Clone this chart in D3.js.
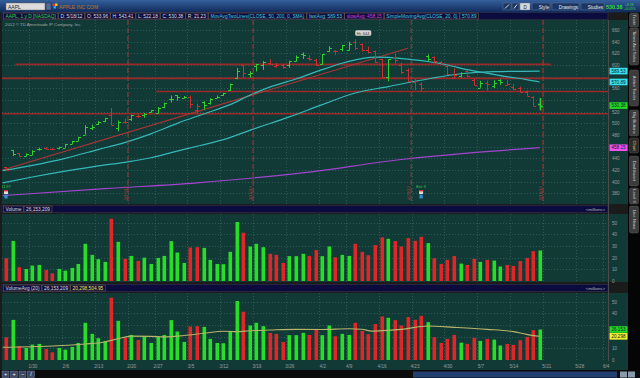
<!DOCTYPE html>
<html>
<head>
<meta charset="utf-8">
<script src="https://cdnjs.cloudflare.com/ajax/libs/d3/7.8.5/d3.min.js"></script>
<style>
  body { margin: 0; background: #000; }
  svg { display: block; font-family: "Liberation Sans", Arial, sans-serif; }
</style>
</head>
<body>
<div id="chart"></div>
<script>
// trading days shown (AAPL daily, 1/24/12 - 5/18/12)
const dates = ["1/24","1/25","1/26","1/27","1/30","1/31","2/1","2/2","2/3","2/6","2/7","2/8","2/9","2/10","2/13","2/14","2/15","2/16","2/17","2/21","2/22","2/23","2/24","2/27","2/28","2/29","3/1","3/2","3/5","3/6","3/7","3/8","3/9","3/12","3/13","3/14","3/15","3/16","3/19","3/20","3/21","3/22","3/23","3/26","3/27","3/28","3/29","3/30","4/2","4/3","4/4","4/5","4/9","4/10","4/11","4/12","4/13","4/16","4/17","4/18","4/19","4/20","4/23","4/24","4/25","4/26","4/27","4/30","5/1","5/2","5/3","5/4","5/7","5/8","5/9","5/10","5/11","5/14","5/15","5/16","5/17","5/18"];
const opens = [425.10,454.44,448.48,444.34,445.71,455.85,458.49,455.90,457.30,458.38,465.25,470.50,480.51,491.17,499.53,504.66,514.26,491.50,503.11,506.88,513.08,515.08,519.67,517.56,527.96,541.56,548.17,544.24,545.42,523.66,536.80,534.69,544.21,548.98,557.54,578.05,599.61,584.72,598.37,599.51,602.74,597.78,600.49,599.79,606.18,618.38,612.78,608.77,601.83,624.48,624.35,626.98,626.13,639.93,636.20,625.00,624.11,610.06,578.94,613.00,600.22,591.38,570.61,568.00,615.06,614.28,605.50,597.94,578.36,580.32,590.50,575.00,561.00,569.21,563.70,574.57,565.00,562.57,561.00,554.35,545.36,533.96];
const highs = [425.10,454.45,448.79,448.48,453.90,458.24,458.99,457.17,460.00,464.98,469.75,476.79,496.75,497.62,503.83,509.56,526.29,504.89,507.77,514.85,515.49,517.83,522.90,528.00,535.41,547.61,548.21,546.80,547.48,533.69,537.78,542.99,547.74,552.00,568.18,594.72,600.01,589.20,601.77,606.90,609.65,603.50,601.80,607.15,616.28,621.45,616.56,610.56,618.77,632.21,625.86,634.66,639.84,644.00,636.87,631.33,624.70,610.28,610.00,620.25,604.00,594.16,576.67,570.00,618.00,614.69,607.00,598.40,594.40,587.40,591.40,576.00,572.77,573.50,573.94,575.44,574.00,567.55,563.00,556.52,547.00,543.41];
const lows = [419.55,443.73,443.14,443.77,445.39,453.07,455.55,453.98,455.56,458.20,464.58,469.70,480.56,488.55,497.09,502.00,496.89,486.63,500.30,504.12,509.07,509.50,518.64,517.25,525.85,535.70,538.77,542.52,526.00,516.22,523.30,532.12,543.11,547.00,555.75,575.40,578.55,578.00,589.05,591.48,601.41,595.25,593.40,595.26,606.06,610.31,607.23,597.94,600.38,622.51,617.00,623.40,625.30,626.00,623.34,620.50,603.51,578.25,571.91,602.71,584.80,570.42,556.62,555.00,606.00,602.13,600.50,583.00,578.00,578.59,580.30,565.17,561.00,556.11,560.50,566.00,565.00,556.88,553.00,547.00,530.12,522.18];
const closes = [420.41,446.66,444.63,447.28,453.01,456.48,456.19,455.12,459.68,463.97,468.83,476.68,493.17,493.42,502.60,509.46,497.67,502.21,502.12,514.85,513.04,516.39,522.41,525.76,535.41,542.44,544.47,545.18,533.16,530.26,530.69,541.99,545.17,552.00,568.10,589.58,585.56,585.57,601.10,605.96,602.50,599.34,596.05,606.98,614.48,617.62,609.86,599.55,618.63,629.32,624.31,633.68,636.23,628.44,626.20,622.77,605.23,580.13,609.70,608.34,587.44,572.98,571.70,560.28,610.00,607.70,603.00,583.98,582.13,585.98,581.82,565.25,569.48,568.18,569.18,570.52,566.71,558.22,553.17,546.08,530.12,530.38];
const prevClose = 427.41;
// volume, millions
const volumes = [19.5,34.4,11.8,10.3,13.2,13.8,9.5,6.6,10.3,8.9,11.2,14.6,31.9,22.4,18.7,16.4,53.4,33.6,19.0,21.5,17.2,20.0,14.6,19.8,21.5,34.2,24.4,15.5,28.7,29.0,28.4,18.1,14.6,14.4,25.0,50.6,41.4,29.6,31.9,29.0,23.3,22.4,15.5,21.3,21.3,23.3,21.5,26.5,21.3,29.6,20.4,22.4,21.5,31.9,25.0,22.1,30.8,37.4,36.2,34.2,29.6,36.8,34.5,37.9,32.5,19.5,14.7,18.1,21.5,14.9,13.8,19.0,16.4,18.1,17.5,12.4,13.8,12.9,17.0,19.8,25.6,26.15];

// moving averages, [bar position, value]
const sma20 = [[-0.5,419],[4,428],[9,440],[14,455],[18,467],[22,482],[26,500],[30,516],[34,532],[37,548],[40,562],[44,576],[48,592],[51,603],[54,611],[56,613.5],[58,613],[61,610],[64,606],[67,600],[70,592],[73,586],[76,580],[79,575],[81,570.89]];
const sma50 = [[-0.5,398],[4,408],[9,418],[14,427],[18.5,434],[22,441],[25.5,451],[29.5,462],[33,472],[37.5,490],[43,511],[48,532],[53,552],[58,563],[64,576],[69,585],[74,588.6],[81,589.53]];
const sma200 = [[-0.5,376],[15,388],[29,398],[45,415],[60,438],[70,449],[81,458.15]];
const volAvg20 = [[-0.5,10.9],[7,12.0],[12,13.7],[15,15.5],[17,18.2],[19,20.5],[22,20.3],[24,19.8],[27,21],[30,22.9],[33,24.6],[35,24.3],[37,25.1],[40,25.7],[44,26.3],[48,26.2],[52,26.8],[54,26.4],[55.5,24.8],[58,25.4],[60,26.3],[64,29.1],[68,28],[73,26.3],[77,24.3],[79,22],[81,20.3]];

// drawings
const levels = [{p: 601, from: 1.4, to: 82.7}, {p: 577, from: -1, to: 92}, {p: 554.5, from: 22.8, to: 92}, {p: 516.5, from: -1, to: 92}];
const trend = [[-0.5, 420], [61, 628.6]];
const expiries = [18.5, 37.5, 61.5, 81.5];
const expiryLabels = ["2/17/12", "3/16/12", "4/20/12", "5/18/12"];

// x axis
const tickLabels = ["1/30","2/6","2/13","2/20","2/27","3/5","3/12","3/19","3/26","4/2","4/9","4/16","4/23","4/30","5/7","5/14","5/21","5/28","6/4"];
const tickPos = [4,9,14,19,23,28,33,38,43,48,52,57,62,67,72,77,82,87,91];
const priceTicks = d3.range(380, 661, 20);
const volTicks = [0, 10, 20, 30, 40, 50];

// right scale readouts
const priceMarks = [{v: 589.53, c: "#38e0ee"}, {v: 570.89, c: "#38e0ee"}, {v: 530.38, c: "#22d822"}, {v: 458.15, c: "#f050f0"}];
const avgMarks = [{v: 26.153, c: "#22d822"}, {v: 20.298, c: "#eeee30"}];

const W = 640, H = 378;
const plotL = 2, plotR = 608, axisR = 628;
const priceTop = 20, priceBot = 204;
const volTop = 214, volBot = 282;
const avgTop = 293, avgBot = 361;

const BG = "#113a37", GRID = "#40706a", GREEN = "#27dd27", RED = "#e02626";
const PGREEN = "#2fcf2f", PRED = "#cc2f2f", TEAL = "#36b8b8", LEVEL = "#9a2a2a";

const x = d3.scaleLinear().domain([0, 81]).range([6, 539.7]);
const yP = d3.scaleLinear().domain([380, 660]).range([193.3, 30]);
const yV = d3.scaleLinear().domain([0, 50]).range([281, 222.7]);
const yA = d3.scaleLinear().domain([0, 50]).range([360, 301.7]);

const svg = d3.select("#chart").append("svg").attr("width", W).attr("height", H);
svg.append("rect").attr("width", W).attr("height", H).attr("fill", "#1b1b1b");

const defs = svg.append("defs");
const grad = defs.append("linearGradient").attr("id", "topg").attr("x1", 0).attr("y1", 0).attr("x2", 0).attr("y2", 1);
grad.append("stop").attr("offset", 0).attr("stop-color", "#34609c");
grad.append("stop").attr("offset", 1).attr("stop-color", "#10295a");
[["clipP", priceTop, priceBot], ["clipV", volTop, volBot], ["clipA", avgTop, avgBot]].forEach(c => {
  defs.append("clipPath").attr("id", c[0]).append("rect")
    .attr("x", plotL).attr("y", c[1]).attr("width", plotR - plotL).attr("height", c[2] - c[1]);
});

// top toolbar
svg.append("rect").attr("width", W).attr("height", 12.5).attr("fill", "url(#topg)");
svg.append("rect").attr("x", 6).attr("y", 3).attr("width", 39).attr("height", 7)
  .attr("fill", "#dcdcdc").attr("stroke", "#6a6a6a").attr("stroke-width", 0.5);
svg.append("text").attr("x", 8).attr("y", 8.8).attr("font-size", 5).attr("fill", "#222").text("AAPL");
svg.append("rect").attr("x", 46).attr("y", 3).attr("width", 5).attr("height", 7).attr("fill", "#4d6d9d").attr("stroke", "#223").attr("stroke-width", 0.4);
svg.append("rect").attr("x", 52.5).attr("y", 3.5).attr("width", 2.5).attr("height", 2.5).attr("fill", "#e03030");
svg.append("rect").attr("x", 55).attr("y", 3.5).attr("width", 2.5).attr("height", 2.5).attr("fill", "#f0d020");
svg.append("rect").attr("x", 53.5).attr("y", 6).attr("width", 2.5).attr("height", 2.5).attr("fill", "#30a0e0");
svg.append("text").attr("x", 59).attr("y", 8.8).attr("font-size", 5).attr("fill", "#c4702e").text("APPLE INC COM");

const tools = [{t: "", x: 503, w: 8}, {t: "", x: 512, w: 7}, {t: "D", x: 520, w: 10, light: true}, {t: "Style", x: 532, w: 18}, {t: "Drawings", x: 552, w: 27}, {t: "Studies", x: 581, w: 23}];
tools.forEach(b => {
  svg.append("rect").attr("x", b.x).attr("y", 3).attr("width", b.w).attr("height", 7)
    .attr("fill", b.light ? "#d8d8d8" : "#1d3560").attr("stroke", "#5a7aa8").attr("stroke-width", 0.5);
  if (b.t) svg.append("text").attr("x", b.light ? b.x + 3.5 : b.x + b.w - 1).attr("y", 8.8)
    .attr("text-anchor", b.light ? "start" : "end").attr("font-size", 4.6)
    .attr("fill", b.light ? "#222" : "#e8e8e8").text(b.t);
  else svg.append("path").attr("d", `M${b.x + 2},${8.5}L${b.x + b.w - 2},${4.5}`).attr("stroke", "#ddd").attr("stroke-width", 1);
});
svg.append("text").attr("x", 606).attr("y", 9).attr("font-size", 5.4).attr("font-weight", "bold").attr("fill", "#33dd33").text("530.38");
svg.append("text").attr("x", 625).attr("y", 6).attr("font-size", 3.4).attr("fill", "#33dd33").text("+0.26");
svg.append("text").attr("x", 624).attr("y", 10).attr("font-size", 3.4).attr("fill", "#33dd33").text("+0.05%");

// panels
[[priceTop, priceBot], [volTop, volBot], [avgTop, avgBot], [avgBot, 370]].forEach(p => {
  svg.append("rect").attr("x", plotL).attr("y", p[0]).attr("width", axisR - plotL).attr("height", p[1] - p[0]).attr("fill", BG);
});
svg.append("line").attr("x1", plotR + 0.5).attr("x2", plotR + 0.5).attr("y1", priceTop).attr("y2", avgBot)
  .attr("stroke", "#4b4b4b").attr("stroke-width", 1);

// header strips with boxed readouts
function headerStrip(y, items, right) {
  svg.append("rect").attr("x", plotL).attr("y", y).attr("width", plotR - plotL).attr("height", 7)
    .attr("fill", "#0b0b3e").attr("stroke", "#3a3a5a").attr("stroke-width", 0.5);
  let cx = plotL + 1.5;
  items.forEach(it => {
    const t = svg.append("text").attr("x", cx + 2).attr("y", y + 5.3).attr("font-size", 4.8).attr("fill", it.c).text(it.t);
    const w = t.node().getComputedTextLength() + 4;
    svg.insert("rect", "text:last-child").attr("x", cx).attr("y", y + 0.5).attr("width", w).attr("height", 6)
      .attr("fill", "none").attr("stroke", "#6b5a46").attr("stroke-width", 0.6);
    cx += w + 0.5;
  });
  if (right) svg.append("text").attr("x", plotR - 3).attr("y", y + 5.2).attr("text-anchor", "end")
    .attr("font-size", 4.3).attr("fill", "#b8b8b8").text(right);
}
headerStrip(12.5, [
  {t: "AAPL, 1 y D [NASDAQ]", c: "#3ddc3d"},
  {t: "D: 5/18/12", c: "#dcdcdc"}, {t: "O: 533.96", c: "#dcdcdc"}, {t: "H: 543.41", c: "#dcdcdc"},
  {t: "L: 522.18", c: "#dcdcdc"}, {t: "C: 530.38", c: "#dcdcdc"}, {t: "R: 21.23", c: "#dcdcdc"},
  {t: "MovAvgTwoLines(CLOSE, 50, 200, 0, SMA)", c: "#3fd0d8"},
  {t: "fastAvg: 589.53", c: "#3fd0d8"}, {t: "slowAvg: 458.15", c: "#d244d2"},
  {t: "SimpleMovingAvg(CLOSE, 20, 0)", c: "#3fd0d8"}, {t: "570.89", c: "#3fd0d8"}
]);
headerStrip(205.5, [{t: "Volume", c: "#dcdcdc"}, {t: "26,153,209", c: "#dcdcdc"}], "<millions>");
headerStrip(284.5, [{t: "VolumeAvg (20)", c: "#dcdcdc"}, {t: "26,153,209", c: "#dcdcdc"}, {t: "20,298,504.95", c: "#eeee44"}], "<millions>");
svg.append("text").attr("x", 5).attr("y", 25.5).attr("font-size", 4.3).attr("fill", "#a0aaaa").text("2012 \u00a9 TD Ameritrade IP Company, Inc.");

// grid
const grid = svg.append("g").attr("stroke", GRID).attr("stroke-width", 0.6).attr("stroke-dasharray", "1,2");
[[priceTop, priceBot], [volTop, volBot], [avgTop, avgBot]].forEach(p => {
  grid.selectAll(null).data(tickPos).enter().append("line")
    .attr("x1", d => Math.round(x(d)) - 2.5).attr("x2", d => Math.round(x(d)) - 2.5)
    .attr("y1", p[0]).attr("y2", p[1]);
});
grid.selectAll(null).data(priceTicks).enter().append("line")
  .attr("x1", plotL).attr("x2", plotR).attr("y1", d => Math.round(yP(d)) + 0.5).attr("y2", d => Math.round(yP(d)) + 0.5);
grid.selectAll(null).data(volTicks.slice(1)).enter().append("line")
  .attr("x1", plotL).attr("x2", plotR).attr("y1", d => Math.round(yV(d)) + 0.5).attr("y2", d => Math.round(yV(d)) + 0.5);
grid.selectAll(null).data(volTicks.slice(1)).enter().append("line")
  .attr("x1", plotL).attr("x2", plotR).attr("y1", d => Math.round(yA(d)) + 0.5).attr("y2", d => Math.round(yA(d)) + 0.5);

// price panel
const pg = svg.append("g").attr("clip-path", "url(#clipP)");
pg.selectAll(".lvl").data(levels).enter().append("line").attr("class", "lvl")
  .attr("x1", d => x(d.from)).attr("x2", d => Math.min(x(d.to), plotR))
  .attr("y1", d => yP(d.p)).attr("y2", d => yP(d.p))
  .attr("stroke", LEVEL).attr("stroke-width", 1.6);
pg.append("line").attr("x1", x(trend[0][0])).attr("y1", yP(trend[0][1]))
  .attr("x2", x(trend[1][0])).attr("y2", yP(trend[1][1])).attr("stroke", "#b03434").attr("stroke-width", 1.1);

const maLine = d3.line().x(d => x(d[0])).y(d => yP(d[1])).curve(d3.curveMonotoneX);
pg.append("path").attr("d", maLine(sma200)).attr("fill", "none").attr("stroke", "#a244cc").attr("stroke-width", 1.2);
pg.append("path").attr("d", maLine(sma50)).attr("fill", "none").attr("stroke", TEAL).attr("stroke-width", 1.2);
pg.append("path").attr("d", maLine(sma20)).attr("fill", "none").attr("stroke", TEAL).attr("stroke-width", 1.2);

pg.selectAll(".exp").data(expiries).enter().append("line").attr("class", "exp")
  .attr("x1", d => x(d)).attr("x2", d => x(d)).attr("y1", priceTop).attr("y2", priceBot)
  .attr("stroke", "#b3302e").attr("stroke-width", 1).attr("stroke-dasharray", "5,3");
pg.selectAll(".expl").data(expiries).enter().append("text").attr("class", "expl")
  .attr("transform", d => `translate(${x(d) - 1.2},${200}) rotate(-90)`)
  .attr("font-size", 4.2).attr("fill", "#b83a36").text((d, i) => expiryLabels[i]);

const up = closes.map((c, i) => c >= (i ? closes[i - 1] : prevClose));
const ohlc = pg.selectAll(".bar").data(dates).enter().append("g").attr("class", "bar")
  .attr("stroke", (d, i) => up[i] ? PGREEN : PRED).attr("stroke-width", (d, i) => i === 81 ? 1.6 : 1);
ohlc.append("line").attr("x1", (d, i) => Math.round(x(i)) + 0.5).attr("x2", (d, i) => Math.round(x(i)) + 0.5)
  .attr("y1", (d, i) => yP(highs[i])).attr("y2", (d, i) => yP(lows[i]));
ohlc.append("line").attr("x1", (d, i) => Math.round(x(i)) - 2).attr("x2", (d, i) => Math.round(x(i)) + 0.5)
  .attr("y1", (d, i) => Math.round(yP(opens[i])) + 0.5).attr("y2", (d, i) => Math.round(yP(opens[i])) + 0.5);
ohlc.append("line").attr("x1", (d, i) => Math.round(x(i)) + 0.5).attr("x2", (d, i) => Math.round(x(i)) + 3)
  .attr("y1", (d, i) => Math.round(yP(closes[i])) + 0.5).attr("y2", (d, i) => Math.round(yP(closes[i])) + 0.5);

// high bubble
const hiIdx = highs.indexOf(d3.max(highs));
pg.append("rect").attr("x", x(hiIdx)).attr("y", yP(highs[hiIdx]) - 9).attr("width", 16).attr("height", 5.5).attr("rx", 1.5)
  .attr("fill", "#d6d6d6");
pg.append("text").attr("x", x(hiIdx) + 8).attr("y", yP(highs[hiIdx]) - 4.7).attr("text-anchor", "middle")
  .attr("font-size", 4).attr("fill", "#333").text("Hi: " + d3.max(highs).toFixed(0));

// earnings markers
[{i: 0, t: "11.97"}, {i: 63, t: "Est: 3"}].forEach(e => {
  const cx = x(e.i);
  pg.append("text").attr("x", cx).attr("y", 188).attr("text-anchor", "middle").attr("font-size", 3.8).attr("fill", "#3ccf3c").text(e.t);
  pg.append("rect").attr("x", cx - 2).attr("y", 190).attr("width", 4).attr("height", 4).attr("fill", "#e8d8d8");
  pg.append("rect").attr("x", cx - 2).attr("y", 190).attr("width", 4).attr("height", 1.4).attr("fill", "#d03030");
  pg.append("rect").attr("x", cx - 1.6).attr("y", 194.5).attr("width", 3.2).attr("height", 4).attr("fill", "#3a8ad8");
});

// volume panels
function volPanel(y, clip) {
  const g = svg.append("g").attr("clip-path", `url(#${clip})`);
  g.selectAll("rect").data(volumes).enter().append("rect")
    .attr("x", (d, i) => Math.round(x(i)) - 1.5).attr("width", 3.6)
    .attr("y", d => y(d)).attr("height", d => y(0) - y(d))
    .attr("fill", (d, i) => up[i] ? GREEN : RED);
  return g;
}
volPanel(yV, "clipV");
const ag = volPanel(yA, "clipA");
ag.append("path").attr("d", d3.line().x(d => x(d[0])).y(d => yA(d[1])).curve(d3.curveMonotoneX)(volAvg20))
  .attr("fill", "none").attr("stroke", "#b9b46a").attr("stroke-width", 1.1);

// axes (labels hidden where a readout bubble sits on top of them)
function styleAxis(g) {
  g.select(".domain").remove();
  g.selectAll("text").attr("font-size", 4.6).attr("fill", "#9c9c9c").attr("font-family", "Liberation Sans, Arial, sans-serif");
}
const freeTicks = (ticks, scale, marks) => ticks.filter(t => marks.every(m => Math.abs(scale(t) - scale(m.v)) > 6));
svg.append("g").attr("transform", `translate(${plotR + 2},0)`)
  .call(d3.axisRight(yP).tickValues(freeTicks(priceTicks, yP, priceMarks)).tickSize(0).tickPadding(2)).call(styleAxis);
svg.append("g").attr("transform", `translate(${plotR + 2},0)`)
  .call(d3.axisRight(yV).tickValues(volTicks).tickSize(0).tickPadding(2)).call(styleAxis);
svg.append("g").attr("transform", `translate(${plotR + 2},0)`)
  .call(d3.axisRight(yA).tickValues(freeTicks(volTicks, yA, avgMarks)).tickSize(0).tickPadding(2)).call(styleAxis);
svg.append("g").attr("transform", `translate(0,${avgBot + 1})`)
  .call(d3.axisBottom(x).tickValues(tickPos).tickFormat((d, i) => tickLabels[i]).tickSize(0).tickPadding(3)).call(styleAxis);

// value bubbles on the right scale
function bubble(y, label, fill) {
  svg.append("rect").attr("x", plotR + 1.5).attr("y", y - 3.3).attr("width", 18).attr("height", 6.6).attr("fill", fill);
  svg.append("text").attr("x", plotR + 10.5).attr("y", y + 1.7).attr("text-anchor", "middle")
    .attr("font-size", 4.6).attr("fill", "#0a1a2a").text(label);
}
priceMarks.forEach(m => bubble(yP(m.v), m.v.toFixed(2), m.c));
avgMarks.forEach(m => bubble(yA(m.v), m.v.toFixed(3), m.c));

// right tab strip
svg.append("rect").attr("x", axisR).attr("y", 12.5).attr("width", W - axisR).attr("height", H - 12.5).attr("fill", "#050505");
const tabs = [["Trade", 13, 27], ["Times And Sales", 28, 65], ["Active Trader", 70, 106], ["Big Buttons", 110, 136], ["Chart", 138, 153], ["Dashboard", 156, 186], ["Level II", 188, 204], ["Live News", 206, 233]];
tabs.forEach(t => {
  svg.append("rect").attr("x", 629.5).attr("y", t[1]).attr("width", 9).attr("height", t[2] - t[1]).attr("rx", 1.5)
    .attr("fill", t[0] === "Chart" ? "#2b2b2b" : "#3c3c3c").attr("stroke", "#666").attr("stroke-width", 0.4);
  svg.append("text").attr("transform", `translate(${632.5},${(t[1] + t[2]) / 2}) rotate(90)`)
    .attr("text-anchor", "middle").attr("font-size", 4.2)
    .attr("fill", t[0] === "Chart" ? "#e8c860" : "#d0d0d0").text(t[0]);
});

// bottom bar
svg.append("rect").attr("x", 0).attr("y", 370).attr("width", W).attr("height", 8).attr("fill", "#0c0c0c");
["+", "+", "\u2212", "/"].forEach((s, i) => {
  svg.append("rect").attr("x", 2 + i * 8.5).attr("y", 371).attr("width", 7).attr("height", 6.5).attr("fill", "#3a4a66").attr("stroke", "#8a9ab8").attr("stroke-width", 0.4);
  svg.append("text").attr("x", 5.5 + i * 8.5).attr("y", 376.3).attr("text-anchor", "middle").attr("font-size", 5.5).attr("fill", "#fff").text(s);
});
svg.append("rect").attr("x", 413).attr("y", 371.5).attr("width", 204).attr("height", 6).attr("fill", "#223f70");
svg.append("rect").attr("x", 620).attr("y", 371.5).attr("width", 7).attr("height", 6).attr("fill", "#8899aa");
svg.append("rect").attr("x", 628).attr("y", 371.5).attr("width", 7).attr("height", 6).attr("fill", "#8899aa");
</script>
</body>
</html>
